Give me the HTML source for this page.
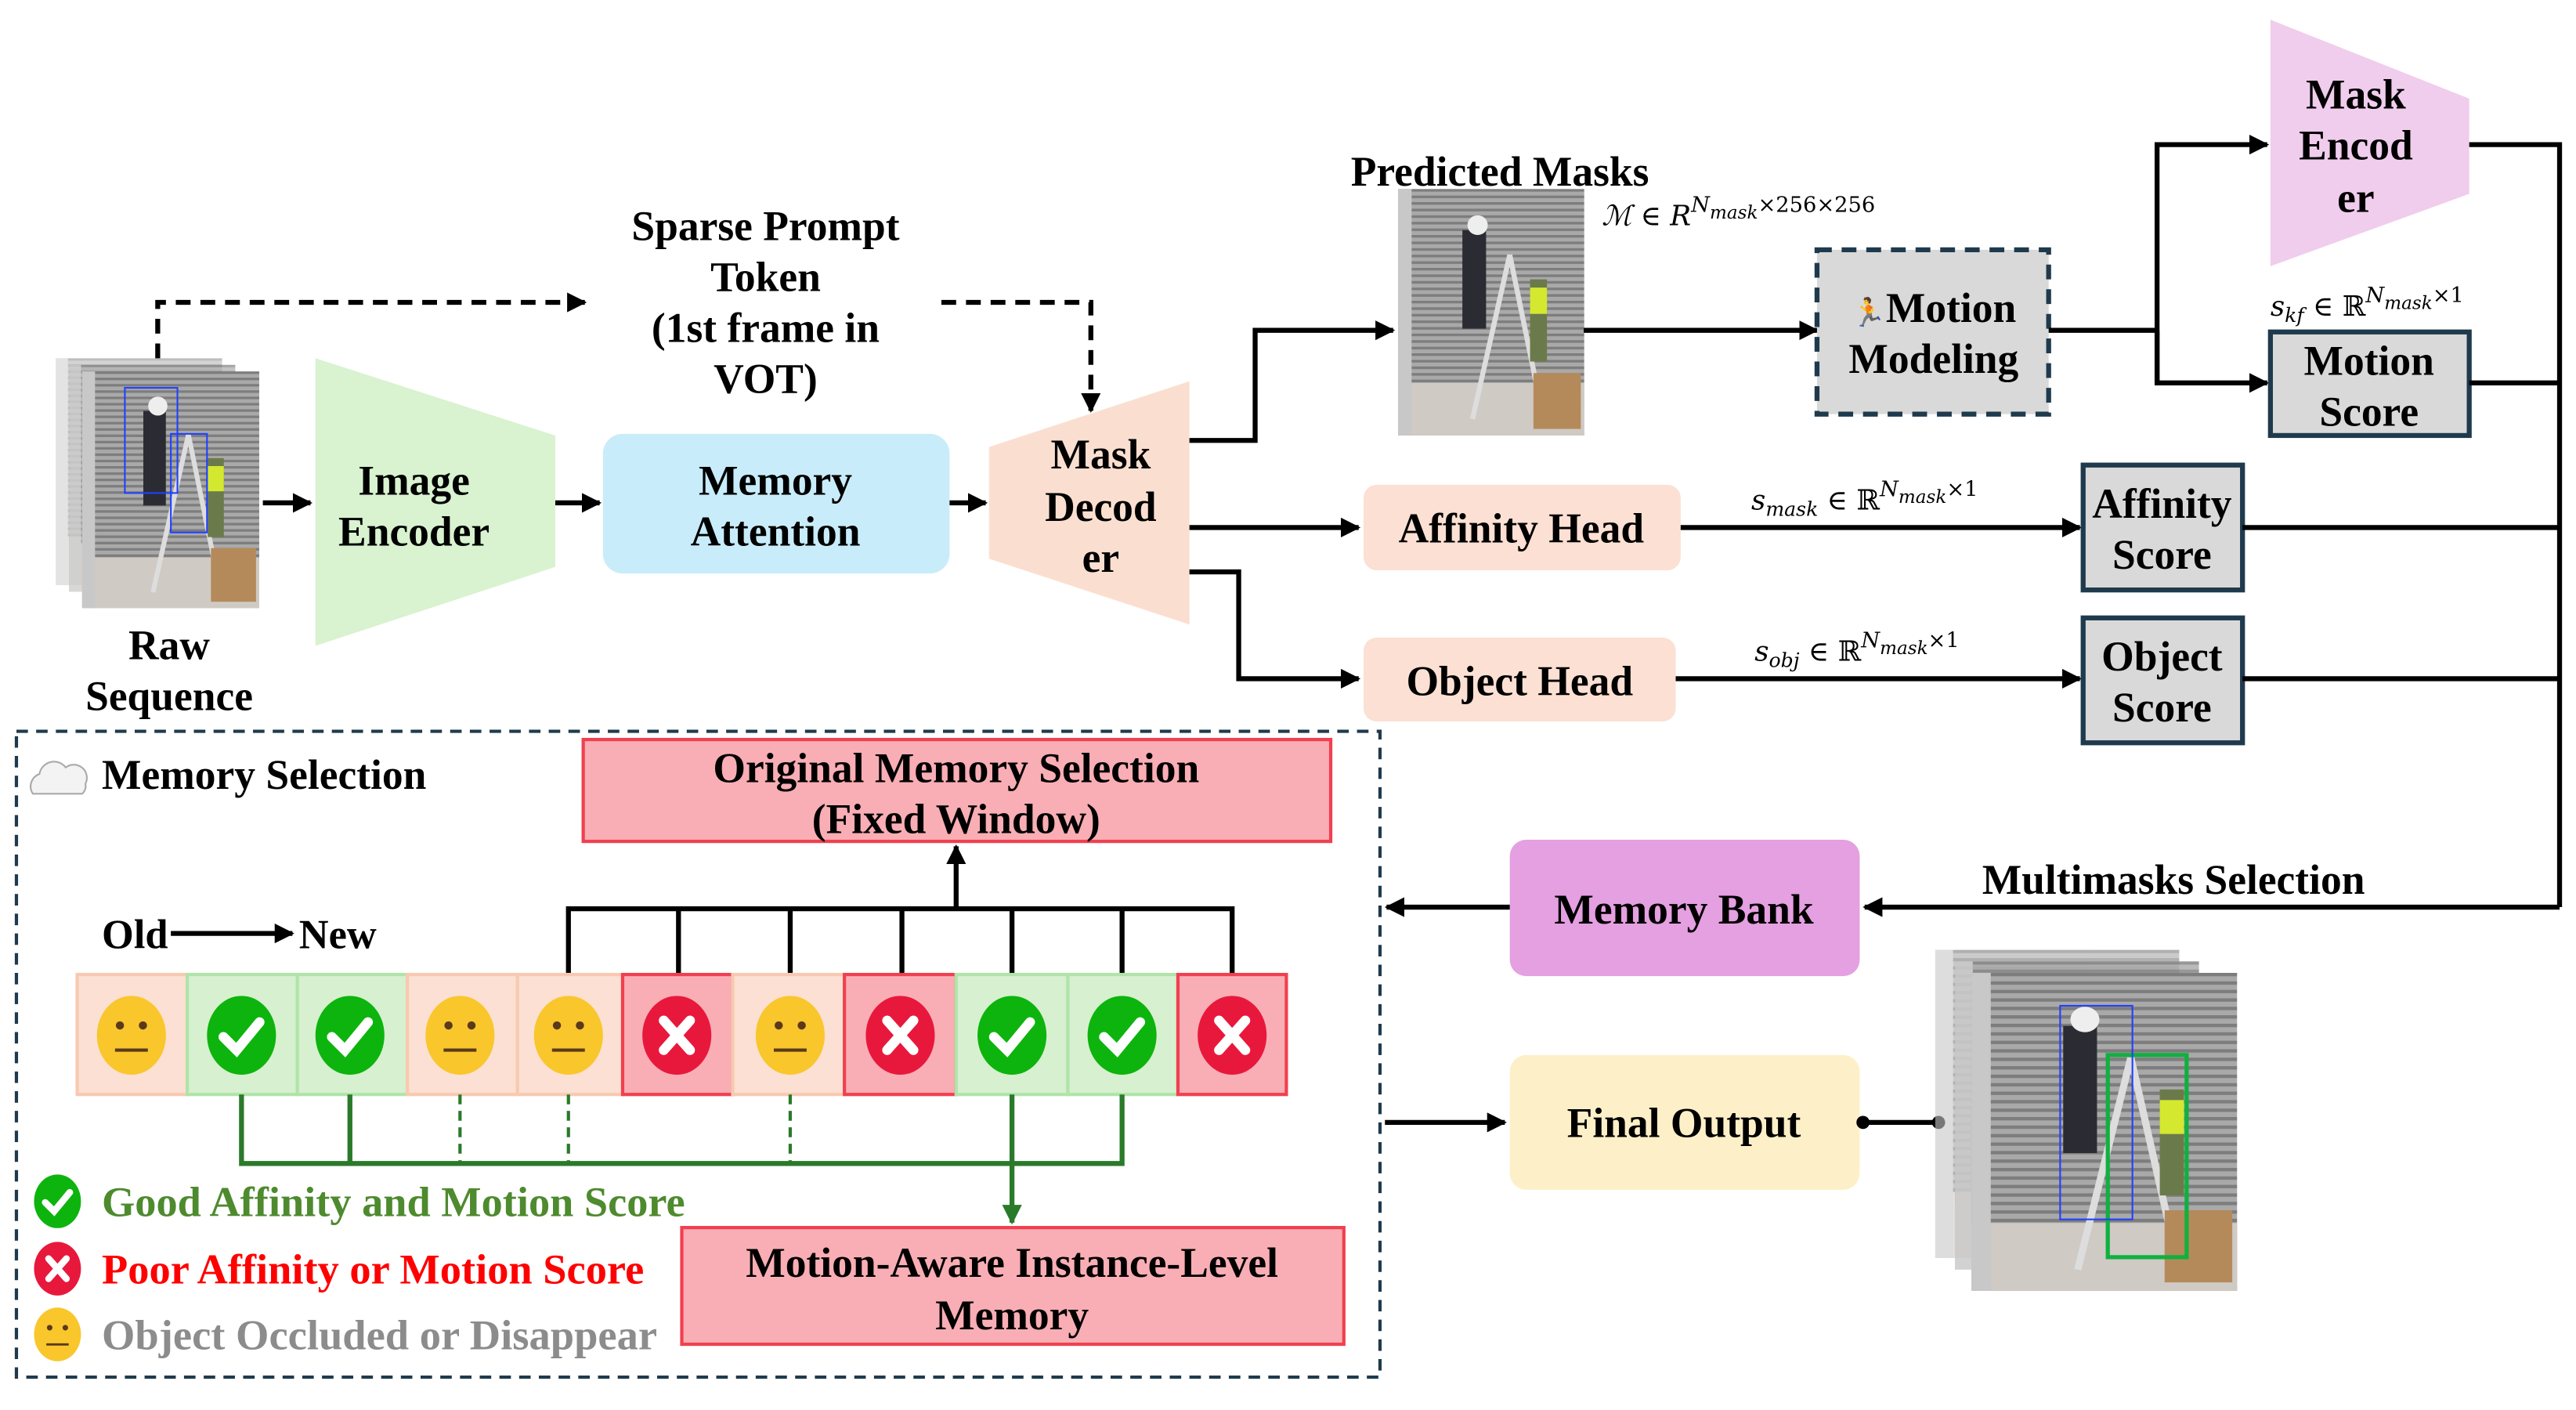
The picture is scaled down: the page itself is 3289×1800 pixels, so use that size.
<!DOCTYPE html>
<html><head><meta charset="utf-8">
<style>
html,body{margin:0;padding:0;background:#fff;}
svg{display:block;}
text{font-family:"Liberation Serif","Times New Roman",serif;font-weight:bold;fill:#000;}
.t{font-size:25.5px;text-anchor:middle;}
.m{font-family:"DejaVu Serif","Liberation Serif",serif;font-weight:normal;font-style:italic;font-size:17px;}
</style></head><body>
<svg width="3289" height="1800" viewBox="0 0 1568 858" preserveAspectRatio="none" xmlns="http://www.w3.org/2000/svg">
<defs>
<marker id="ah" viewBox="0 0 10 10" refX="9" refY="5" markerWidth="4" markerHeight="4" orient="auto-start-reverse"><path d="M0,0L10,5L0,10z" fill="#000"/></marker>
<marker id="ag" viewBox="0 0 10 10" refX="9" refY="5" markerWidth="4" markerHeight="4" orient="auto"><path d="M0,0L10,5L0,10z" fill="#2a7a2a"/></marker>
<pattern id="st" width="6" height="4" patternUnits="userSpaceOnUse"><rect width="6" height="4" fill="#a9a9a9"/><rect width="6" height="1.6" fill="#7d7d7d"/></pattern>
<g id="photo">
<rect x="0" y="0" width="110" height="150" fill="url(#st)"/>
<rect x="0" y="118" width="110" height="32" fill="#cfcac4"/>
<rect x="0" y="0" width="8" height="150" fill="#c8c8c8"/>
<rect x="38" y="25" width="14" height="60" fill="#2b2b33"/>
<circle cx="47" cy="22" r="6" fill="#eee"/>
<line x1="44" y1="140" x2="66" y2="40" stroke="#ddd" stroke-width="3"/>
<line x1="66" y1="40" x2="84" y2="130" stroke="#ddd" stroke-width="3"/>
<rect x="78" y="55" width="10" height="50" fill="#6b7a4a"/>
<rect x="78" y="60" width="10" height="16" fill="#d4e830"/>
<rect x="80" y="112" width="28" height="34" fill="#b58a5a"/>
</g>
<g id="neu"><ellipse cx="0" cy="0" rx="21" ry="24" fill="#f9c62c"/><circle cx="-7" cy="-6" r="2.5" fill="#5a3a1a"/><circle cx="7" cy="-6" r="2.5" fill="#5a3a1a"/><line x1="-10" y1="9" x2="10" y2="9" stroke="#5a3a1a" stroke-width="2"/></g>
<g id="chk"><ellipse cx="0" cy="0" rx="21" ry="24" fill="#0db40d"/><path d="M-11,1L-3,9L11,-8" fill="none" stroke="#fff" stroke-width="6" stroke-linecap="round"/></g>
<g id="crs"><ellipse cx="0" cy="0" rx="21" ry="24" fill="#e8183c"/><path d="M-8,-9L8,9M8,-9L-8,9" stroke="#fff" stroke-width="6" stroke-linecap="round"/></g>
</defs>

<!-- Raw sequence -->
<g transform="translate(34,218) scale(0.92,0.92)" opacity="0.5"><use href="#photo"/></g>
<g transform="translate(42,222) scale(0.92,0.92)" opacity="0.7"><use href="#photo"/></g>
<g transform="translate(50,226) scale(0.98,0.96)"><use href="#photo"/></g>
<rect x="76" y="236" width="32" height="64" fill="none" stroke="#2040ff" stroke-width="1"/>
<rect x="104" y="264" width="22" height="60" fill="none" stroke="#2040ff" stroke-width="1"/>
<text class="t" x="103" y="401">Raw</text>
<text class="t" x="103" y="432">Sequence</text>

<!-- dashed prompt -->
<path d="M96,218V184H356" fill="none" stroke="#000" stroke-width="3" stroke-dasharray="9,6" marker-end="url(#ah)"/>
<path d="M573,184H664V250" fill="none" stroke="#000" stroke-width="3" stroke-dasharray="9,6" marker-end="url(#ah)"/>
<text class="t" x="466" y="146">Sparse Prompt</text>
<text class="t" x="466" y="177">Token</text>
<text class="t" x="466" y="208">(1st frame in</text>
<text class="t" x="466" y="239">VOT)</text>

<line x1="160" y1="306" x2="189" y2="306" stroke="#000" stroke-width="3" marker-end="url(#ah)"/>
<polygon points="192,218 338,265 338,345 192,393" fill="#d9f2d0"/>
<text class="t" x="252" y="301">Image</text>
<text class="t" x="252" y="332">Encoder</text>
<line x1="338" y1="306" x2="365" y2="306" stroke="#000" stroke-width="3" marker-end="url(#ah)"/>
<rect x="367" y="264" width="211" height="85" rx="12" fill="#c9ecfa"/>
<text class="t" x="472" y="301">Memory</text>
<text class="t" x="472" y="332">Attention</text>
<line x1="578" y1="306" x2="600" y2="306" stroke="#000" stroke-width="3" marker-end="url(#ah)"/>
<polygon points="602,272 724,232 724,380 602,340" fill="#fadfd0"/>
<text class="t" x="670" y="285">Mask</text>
<text class="t" x="670" y="317">Decod</text>
<text class="t" x="670" y="348">er</text>

<!-- decoder outputs -->
<path d="M724,268H764V201H848" fill="none" stroke="#000" stroke-width="3" marker-end="url(#ah)"/>
<path d="M724,321H827" fill="none" stroke="#000" stroke-width="3" marker-end="url(#ah)"/>
<path d="M724,348H754V413H827" fill="none" stroke="#000" stroke-width="3" marker-end="url(#ah)"/>

<text class="t" x="913" y="113">Predicted Masks</text>
<g transform="translate(851,115) scale(1.03,1.0)"><use href="#photo"/></g>
<text class="m" x="975" y="137">ℳ ∈ R<tspan dy="-8" font-size="13">N</tspan><tspan font-size="11" dy="4">mask</tspan><tspan font-size="13" dy="-4" font-style="normal">×256×256</tspan></text>
<line x1="964" y1="201" x2="1106" y2="201" stroke="#000" stroke-width="3" marker-end="url(#ah)"/>
<rect x="1106" y="152" width="141" height="100" fill="#d9d9d9" stroke="#1f3a4d" stroke-width="3" stroke-dasharray="9,6"/>
<text class="t" x="1177" y="196"><tspan font-size="17" fill="#e0a020">🏃</tspan>Motion</text>
<text class="t" x="1177" y="227">Modeling</text>
<path d="M1247,201H1313" fill="none" stroke="#000" stroke-width="3"/>
<path d="M1313,233V88H1380" fill="none" stroke="#000" stroke-width="3" marker-end="url(#ah)"/>
<path d="M1313,201V233H1380" fill="none" stroke="#000" stroke-width="3" marker-end="url(#ah)"/>
<polygon points="1382,12 1503,60 1503,118 1382,162" fill="#f0cdec"/>
<text class="t" x="1434" y="66">Mask</text>
<text class="t" x="1434" y="97">Encod</text>
<text class="t" x="1434" y="129">er</text>
<text class="m" x="1382" y="192">s<tspan font-size="12" dy="4">kf</tspan><tspan dy="-4" font-style="normal"> ∈ ℝ</tspan><tspan font-size="13" dy="-8">N</tspan><tspan font-size="11" dy="4">mask</tspan><tspan font-size="13" dy="-4" font-style="normal">×1</tspan></text>
<rect x="1382" y="202" width="121" height="63" fill="#d9d9d9" stroke="#1f3a4d" stroke-width="3"/>
<text class="t" x="1442" y="228">Motion</text>
<text class="t" x="1442" y="259">Score</text>

<rect x="830" y="295" width="193" height="52" rx="8" fill="#fbe0d3"/>
<text class="t" x="926" y="330">Affinity Head</text>
<rect x="830" y="388" width="190" height="51" rx="8" fill="#fbe0d3"/>
<text class="t" x="925" y="423">Object Head</text>
<line x1="1023" y1="321" x2="1266" y2="321" stroke="#000" stroke-width="3" marker-end="url(#ah)"/>
<line x1="1020" y1="413" x2="1266" y2="413" stroke="#000" stroke-width="3" marker-end="url(#ah)"/>
<text class="m" x="1066" y="310">s<tspan font-size="12" dy="4">mask</tspan><tspan dy="-4" font-style="normal"> ∈ ℝ</tspan><tspan font-size="13" dy="-8">N</tspan><tspan font-size="11" dy="4">mask</tspan><tspan font-size="13" dy="-4" font-style="normal">×1</tspan></text>
<text class="m" x="1068" y="402">s<tspan font-size="12" dy="4">obj</tspan><tspan dy="-4" font-style="normal"> ∈ ℝ</tspan><tspan font-size="13" dy="-8">N</tspan><tspan font-size="11" dy="4">mask</tspan><tspan font-size="13" dy="-4" font-style="normal">×1</tspan></text>
<rect x="1268" y="283" width="97" height="76" fill="#d9d9d9" stroke="#1f3a4d" stroke-width="3"/>
<text class="t" x="1316" y="315">Affinity</text>
<text class="t" x="1316" y="346">Score</text>
<rect x="1268" y="376" width="97" height="76" fill="#d9d9d9" stroke="#1f3a4d" stroke-width="3"/>
<text class="t" x="1316" y="408">Object</text>
<text class="t" x="1316" y="439">Score</text>

<!-- right bus -->
<path d="M1503,88H1558V552" fill="none" stroke="#000" stroke-width="3"/>
<path d="M1503,233H1558M1365,321H1558M1365,413H1558" fill="none" stroke="#000" stroke-width="3"/>
<path d="M1558,552H1135" fill="none" stroke="#000" stroke-width="3" marker-end="url(#ah)"/>
<text class="t" x="1323" y="544">Multimasks Selection</text>
<rect x="919" y="511" width="213" height="83" rx="10" fill="#e4a0e0"/>
<text class="t" x="1025" y="562">Memory Bank</text>
<line x1="919" y1="552" x2="844" y2="552" stroke="#000" stroke-width="3" marker-end="url(#ah)"/>
<line x1="843" y1="683" x2="916" y2="683" stroke="#000" stroke-width="3" marker-end="url(#ah)"/>
<rect x="919" y="642" width="213" height="82" rx="10" fill="#fdf0c8"/>
<text class="t" x="1025" y="692">Final Output</text>
<line x1="1132" y1="683" x2="1180" y2="683" stroke="#000" stroke-width="3"/>
<circle cx="1134" cy="683" r="4" fill="#000"/>
<circle cx="1180" cy="683" r="4" fill="#000"/>
<g transform="translate(1178,578) scale(1.35,1.25)" opacity="0.6"><use href="#photo"/></g>
<g transform="translate(1190,585) scale(1.35,1.25)" opacity="0.8"><use href="#photo"/></g>
<g transform="translate(1200,592) scale(1.47,1.29)"><use href="#photo"/></g>
<rect x="1283" y="642" width="48" height="123" fill="none" stroke="#10b040" stroke-width="2.5"/>
<rect x="1254" y="612" width="44" height="130" fill="none" stroke="#2040ff" stroke-width="1"/>

<!-- memory selection container -->
<rect x="10" y="445" width="830" height="393" fill="none" stroke="#1f3a4d" stroke-width="2" stroke-dasharray="7,5"/>
<path d="M20,483a8,8 0 0 1 4,-12a9,9 0 0 1 16,-4a8,8 0 0 1 12,10a6,6 0 0 1 -2,6z" fill="#f3f3f3" stroke="#aaa" stroke-width="1"/>
<text x="62" y="480" font-size="25.5">Memory Selection</text>
<rect x="355" y="450" width="455" height="62" fill="#f8aeb4" stroke="#f04050" stroke-width="2"/>
<text class="t" x="582" y="476">Original Memory Selection</text>
<text class="t" x="582" y="507">(Fixed Window)</text>
<path d="M346,593V553H750V593M413,553V593M481,553V593M549,553V593M616,553V593M683,553V593" fill="none" stroke="#000" stroke-width="3"/>
<line x1="582" y1="553" x2="582" y2="515" stroke="#000" stroke-width="3" marker-end="url(#ah)"/>
<text x="62" y="577" font-size="25">Old</text>
<line x1="104" y1="568" x2="178" y2="568" stroke="#000" stroke-width="3" marker-end="url(#ah)"/>
<text x="182" y="577" font-size="25">New</text>

<!-- cells -->
<g stroke-width="2">
<rect x="47" y="593" width="67" height="73" fill="#fbe0d3" stroke="#f8c9b0"/>
<rect x="114" y="593" width="67" height="73" fill="#d7f0d0" stroke="#b0e4a8"/>
<rect x="181" y="593" width="67" height="73" fill="#d7f0d0" stroke="#b0e4a8"/>
<rect x="248" y="593" width="67" height="73" fill="#fbe0d3" stroke="#f8c9b0"/>
<rect x="315" y="593" width="64" height="73" fill="#fbe0d3" stroke="#f8c9b0"/>
<rect x="379" y="593" width="67" height="73" fill="#f8aeb4" stroke="#f04050"/>
<rect x="446" y="593" width="68" height="73" fill="#fbe0d3" stroke="#f8c9b0"/>
<rect x="514" y="593" width="68" height="73" fill="#f8aeb4" stroke="#f04050"/>
<rect x="582" y="593" width="68" height="73" fill="#d7f0d0" stroke="#b0e4a8"/>
<rect x="650" y="593" width="67" height="73" fill="#d7f0d0" stroke="#b0e4a8"/>
<rect x="717" y="593" width="66" height="73" fill="#f8aeb4" stroke="#f04050"/>
</g>
<use href="#neu" x="80" y="630"/><use href="#chk" x="147" y="630"/><use href="#chk" x="213" y="630"/>
<use href="#neu" x="280" y="630"/><use href="#neu" x="346" y="630"/><use href="#crs" x="412" y="630"/>
<use href="#neu" x="481" y="630"/><use href="#crs" x="548" y="630"/><use href="#chk" x="616" y="630"/>
<use href="#chk" x="683" y="630"/><use href="#crs" x="750" y="630"/>

<path d="M147,666V708H683V666M213,666V708" fill="none" stroke="#2a7a2a" stroke-width="3"/>
<path d="M280,666V708M346,666V708M481,666V708" fill="none" stroke="#2a7a2a" stroke-width="2" stroke-dasharray="6,4"/>
<path d="M616,666V744" fill="none" stroke="#2a7a2a" stroke-width="3" marker-end="url(#ag)"/>

<use href="#chk" transform="translate(35,731) scale(0.68)"/>
<use href="#crs" transform="translate(35,772) scale(0.68)"/>
<use href="#neu" transform="translate(35,812) scale(0.68)"/>
<text x="62" y="740" font-size="25.5" textLength="355" lengthAdjust="spacingAndGlyphs" style="fill:#4e8a2e">Good Affinity and Motion Score</text>
<text x="62" y="781" font-size="25.5" textLength="330" lengthAdjust="spacingAndGlyphs" style="fill:#ff0000">Poor Affinity or Motion Score</text>
<text x="62" y="821" font-size="25.5" textLength="338" lengthAdjust="spacingAndGlyphs" style="fill:#8c8c8c">Object Occluded or Disappear</text>
<rect x="415" y="747" width="403" height="71" fill="#f8aeb4" stroke="#f04050" stroke-width="2"/>
<text class="t" x="616" y="777">Motion-Aware Instance-Level</text>
<text class="t" x="616" y="809">Memory</text>
</svg>
</body></html>
